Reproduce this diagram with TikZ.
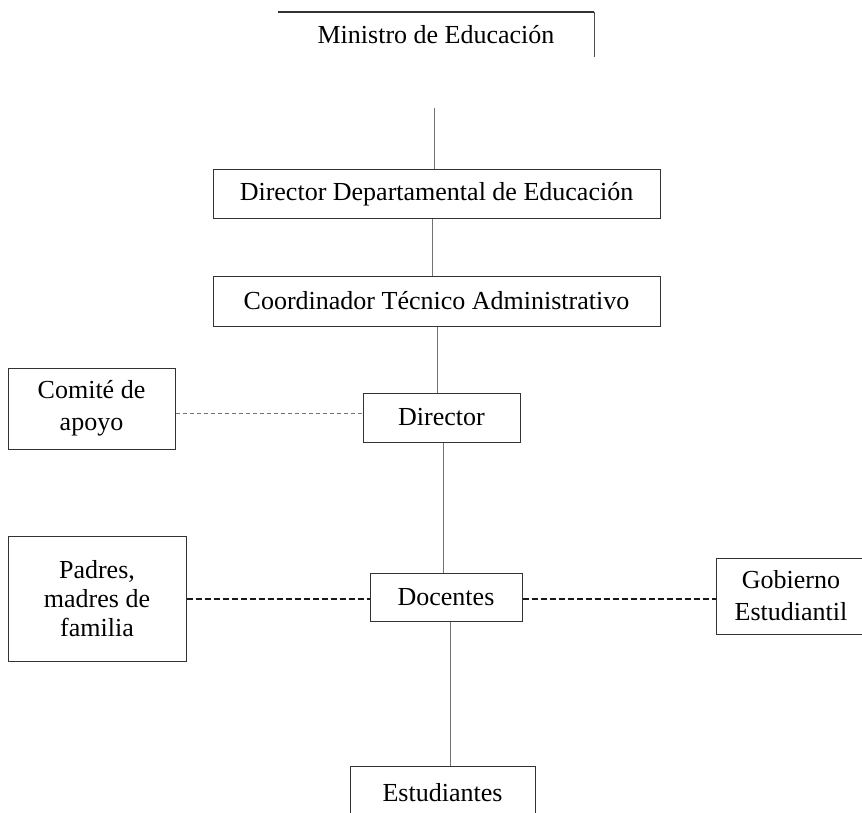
\documentclass[tikz,border=0pt]{standalone}
\usepackage{fontspec}
\setmainfont{Liberation Serif}
\usetikzlibrary{calc}
\begin{document}
\begin{tikzpicture}[x=1pt,y=-1pt,
  orgbox/.style={draw=black!80,line width=1pt,fill=white,inner sep=0pt,align=center,
    font=\fontsize{26}{32}\selectfont},
  vline/.style={draw=black!55,line width=0.9pt},
  thindash/.style={draw=black!55,line width=0.9pt,dash pattern=on 4pt off 3pt},
  thickdash/.style={draw=black!90,line width=1.7pt,dash pattern=on 6pt off 3pt}]
\useasboundingbox (0,0) rectangle (862,813);
\fill[white] (0,0) rectangle (862,813);
% nodes
\node[inner sep=0pt,minimum width=316pt,minimum height=45pt,font=\fontsize{26}{32}\selectfont] (min) at (436,34.5) {Ministro de Educación};
\draw[black!80,line width=1.8pt] (min.north west) -- (min.north east);
\draw[black!70,line width=0.9pt] (min.north east) -- (min.south east);
\node[orgbox,minimum width=447pt,minimum height=49pt] (dde) at (436.5,194.5) {Director Departamental de Educación};
\node[orgbox,minimum width=447pt,minimum height=50pt] (cta) at (436.5,301) {Coordinador Técnico Administrativo};
\node[orgbox,minimum width=167pt,minimum height=81pt] (comite) at (91.5,408.5) {Comité de\\apoyo};
\node[orgbox,minimum width=157pt,minimum height=49pt] (director) at (441.5,417.5) {Director};
\node[orgbox,minimum width=178pt,minimum height=125pt,font=\fontsize{26}{29}\selectfont] (padres) at (97,598.5) {Padres,\\madres de\\familia};
\node[orgbox,minimum width=152pt,minimum height=48pt] (docentes) at (446,597) {Docentes};
\node[orgbox,minimum width=150pt,minimum height=76pt] (gobierno) at (791,596) {Gobierno\\Estudiantil};
\node[orgbox,minimum width=185pt,minimum height=54pt] (estud) at (442.5,793) {Estudiantes};
% connectors
\coordinate (cmin) at (434,108);
\coordinate (c1) at ($(dde.south)+(-4.5,0)$);
\coordinate (c2) at ($(cta.south)+(0.5,0)$);
\coordinate (c3) at ($(director.south)+(1.5,0)$);
\coordinate (c4) at ($(docentes.south)+(4,0)$);
\coordinate (c5) at ($(comite.east)+(0,4.5)$);
\coordinate (c6) at ($(padres.east)+(0,0.5)$);
\draw[vline] (cmin) -- (cmin |- dde.north);
\draw[vline] (c1) -- (c1 |- cta.north);
\draw[vline] (c2) -- (c2 |- director.north);
\draw[vline] (c3) -- (c3 |- docentes.north);
\draw[vline] (c4) -- (c4 |- estud.north);
\draw[thindash] (c5) -- (c5 -| director.west);
\draw[thickdash] (c6) -- (c6 -| docentes.west);
\draw[thickdash] (c6 -| docentes.east) -- (c6 -| gobierno.west);
\end{tikzpicture}
\end{document}
